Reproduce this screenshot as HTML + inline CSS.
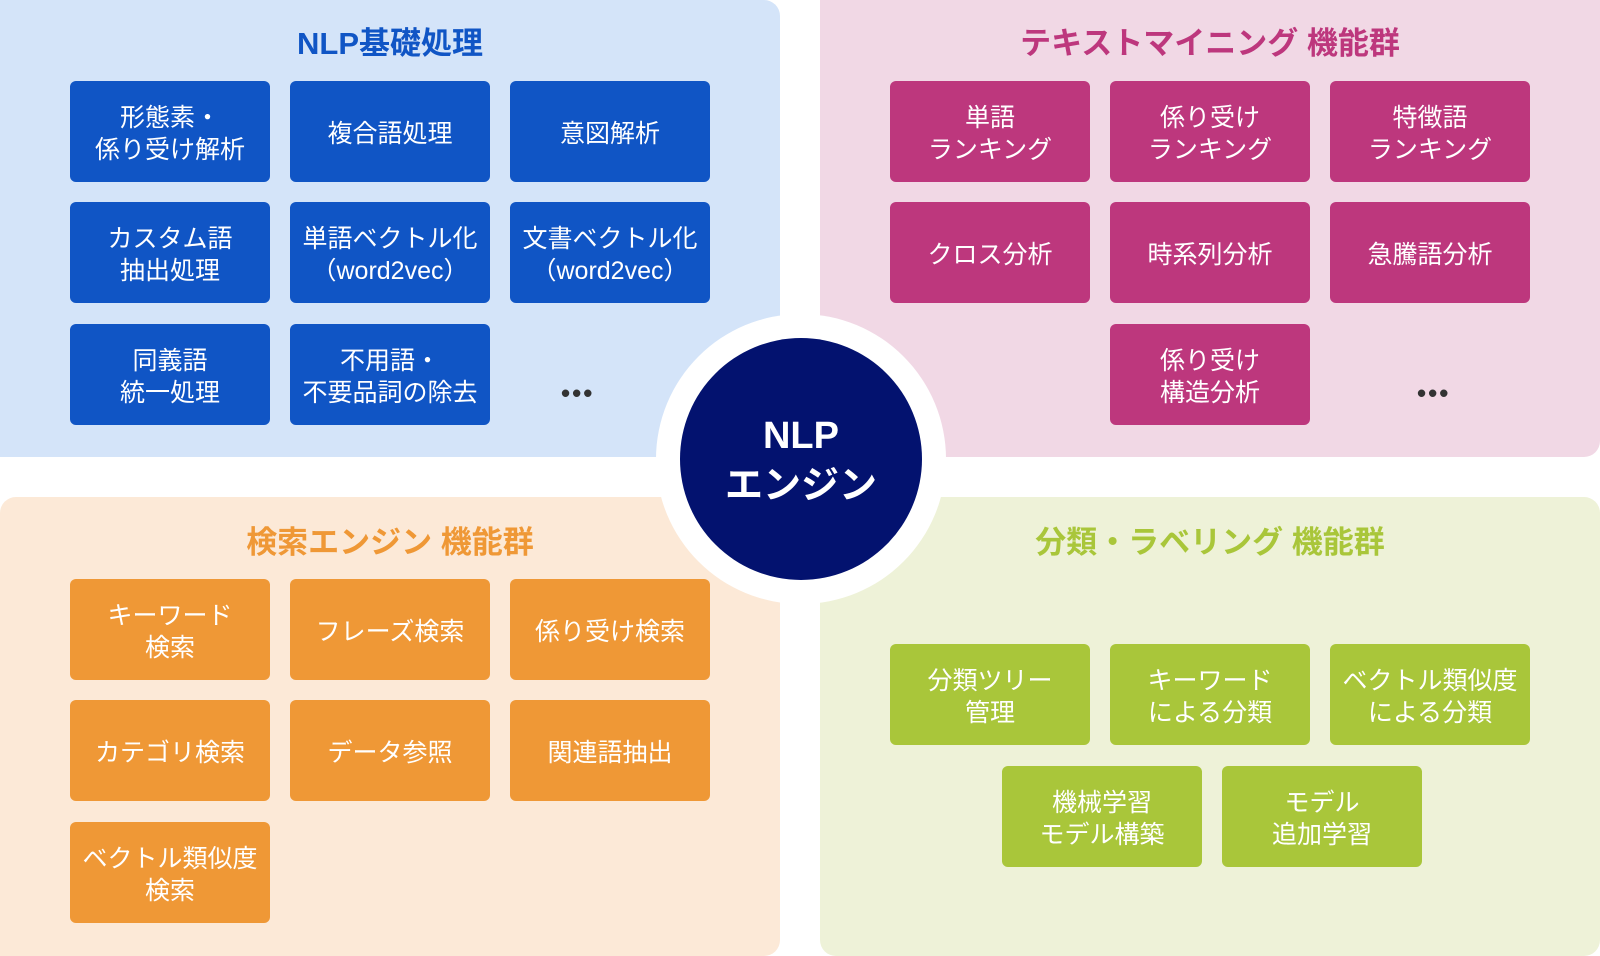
<!DOCTYPE html>
<html><head><meta charset="utf-8"><style>
*{margin:0;padding:0;box-sizing:border-box}
body{width:1600px;height:956px;background:#fff;position:relative;overflow:hidden;font-family:"Liberation Sans","Noto Sans CJK JP",sans-serif}
.q{position:absolute;border-radius:16px}
.t{position:absolute;font-size:31px;font-weight:bold;text-align:center;width:780px;line-height:40px}
.b{position:absolute;width:200px;height:101px;border-radius:6px;color:#fff;font-size:25px;line-height:32px;display:flex;align-items:center;justify-content:center;text-align:center;white-space:nowrap;padding-top:4px}
.bl{background:#1055c5}.pk{background:#bd377d}.or{background:#ef9836}.gr{background:#a9c63a}
.d{position:absolute;font-size:26px;color:#333;font-weight:bold;letter-spacing:2px}
</style></head><body>
<div class="q" style="left:0;top:0;width:780px;height:457px;background:#d4e4f9;border-radius:0 16px 16px 0"></div>
<div class="q" style="left:820px;top:0;width:780px;height:457px;background:#f1d8e5;border-radius:0 0 16px 16px"></div>
<div class="q" style="left:0;top:497px;width:780px;height:459px;background:#fce9d7;border-radius:16px 16px 16px 0"></div>
<div class="q" style="left:820px;top:497px;width:780px;height:459px;background:#eef2d8;border-radius:16px 16px 16px 16px"></div>

<div class="t" style="left:0;top:24px;color:#1055c5">NLP基礎処理</div>
<div class="t" style="left:820px;top:24px;color:#bd377d">テキストマイニング 機能群</div>
<div class="t" style="left:0;top:523px;color:#ef9836">検索エンジン 機能群</div>
<div class="t" style="left:820px;top:523px;color:#a9c63a">分類・ラベリング 機能群</div>

<div class="b bl" style="left:70px;top:81px">形態素・<br>係り受け解析</div>
<div class="b bl" style="left:290px;top:81px">複合語処理</div>
<div class="b bl" style="left:510px;top:81px">意図解析</div>
<div class="b bl" style="left:70px;top:202px">カスタム語<br>抽出処理</div>
<div class="b bl" style="left:290px;top:202px">単語ベクトル化<br>（word2vec）</div>
<div class="b bl" style="left:510px;top:202px">文書ベクトル化<br>（word2vec）</div>
<div class="b bl" style="left:70px;top:324px">同義語<br>統一処理</div>
<div class="b bl" style="left:290px;top:324px">不用語・<br>不要品詞の除去</div>
<div class="d" style="left:561px;top:378px">•••</div>

<div class="b pk" style="left:890px;top:81px">単語<br>ランキング</div>
<div class="b pk" style="left:1110px;top:81px">係り受け<br>ランキング</div>
<div class="b pk" style="left:1330px;top:81px">特徴語<br>ランキング</div>
<div class="b pk" style="left:890px;top:202px">クロス分析</div>
<div class="b pk" style="left:1110px;top:202px">時系列分析</div>
<div class="b pk" style="left:1330px;top:202px">急騰語分析</div>
<div class="b pk" style="left:1110px;top:324px">係り受け<br>構造分析</div>
<div class="d" style="left:1417px;top:378px">•••</div>

<div class="b or" style="left:70px;top:579px">キーワード<br>検索</div>
<div class="b or" style="left:290px;top:579px">フレーズ検索</div>
<div class="b or" style="left:510px;top:579px">係り受け検索</div>
<div class="b or" style="left:70px;top:700px">カテゴリ検索</div>
<div class="b or" style="left:290px;top:700px">データ参照</div>
<div class="b or" style="left:510px;top:700px">関連語抽出</div>
<div class="b or" style="left:70px;top:822px">ベクトル類似度<br>検索</div>

<div class="b gr" style="left:890px;top:644px">分類ツリー<br>管理</div>
<div class="b gr" style="left:1110px;top:644px">キーワード<br>による分類</div>
<div class="b gr" style="left:1330px;top:644px">ベクトル類似度<br>による分類</div>
<div class="b gr" style="left:1002px;top:766px">機械学習<br>モデル構築</div>
<div class="b gr" style="left:1222px;top:766px">モデル<br>追加学習</div>

<div style="position:absolute;left:656px;top:314px;width:290px;height:290px;border-radius:50%;background:#fff"></div>
<div style="position:absolute;left:680px;top:338px;width:242px;height:242px;border-radius:50%;background:#03126f;color:#fff;font-weight:bold;font-size:38px;line-height:50px;display:flex;align-items:center;justify-content:center;text-align:center;padding-top:4px">NLP<br>エンジン</div>
</body></html>
